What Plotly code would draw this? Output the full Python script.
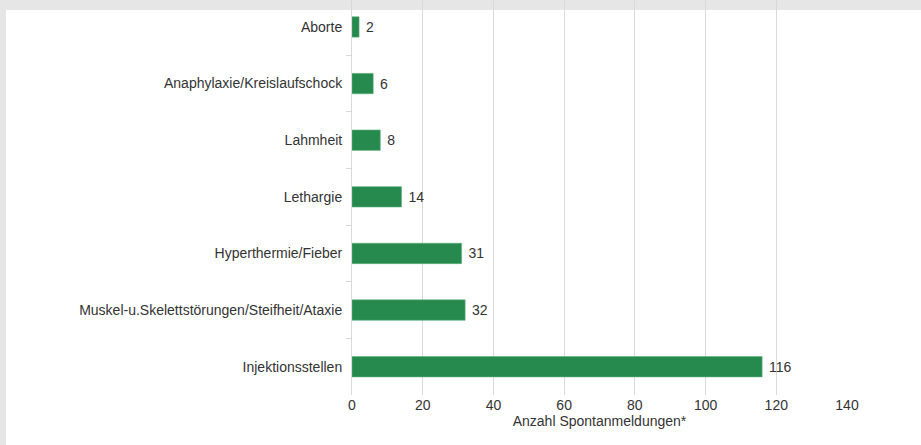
import plotly.graph_objects as go

categories = [
    "Aborte",
    "Anaphylaxie/Kreislaufschock",
    "Lahmheit",
    "Lethargie",
    "Hyperthermie/Fieber",
    "Muskel-u.Skelettstörungen/Steifheit/Ataxie",
    "Injektionsstellen",
]
counts = [2, 6, 8, 14, 31, 32, 116]
x_ticks = [0, 20, 40, 60, 80, 100, 120, 140]

W, H = 921, 445
margin = {"l": 352, "r": 74, "t": 0, "b": 50}
pw = W - margin["l"] - margin["r"]
ph = H - margin["t"] - margin["b"]


def paper_x(px):
    return (px - margin["l"]) / pw


def paper_y(py):
    return 1 - (py - margin["t"]) / ph


fig = go.Figure()
fig.add_bar(
    x=counts,
    y=categories,
    orientation="h",
    marker={"color": "#268a4e", "line": {"color": "#5fb07e", "width": 0.6}},
    text=counts,
    texttemplate=" %{x}",
    textposition="outside",
    cliponaxis=False,
    textfont={"size": 14, "color": "#333333"},
)

# grey shadow along the top and left of the card
fig.add_shape(
    type="rect", xref="paper", yref="paper",
    x0=paper_x(0), x1=paper_x(W), y0=paper_y(H), y1=paper_y(0),
    fillcolor="#e6e6e6", line={"width": 0}, layer="below",
)
fig.add_shape(
    type="rect", xref="paper", yref="paper",
    x0=paper_x(6), x1=paper_x(W + 2), y0=paper_y(H + 2), y1=paper_y(10),
    fillcolor="white", line={"width": 0}, layer="below",
)

fig.update_layout(
    width=W,
    height=H,
    margin=margin,
    paper_bgcolor="white",
    plot_bgcolor="rgba(0,0,0,0)",
    font={"family": "Liberation Sans, Arial, sans-serif", "size": 14, "color": "#333333"},
    bargap=0.64,
    showlegend=False,
)
fig.update_xaxes(
    range=[0, 140],
    tickvals=x_ticks,
    showgrid=True,
    gridcolor="#d9d9d9",
    gridwidth=1,
    zeroline=False,
    showline=False,
    ticks="",
    automargin=False,
    tickfont={"size": 14, "color": "#333333"},
    title={"text": "Anzahl Spontanmeldungen*", "font": {"size": 14}, "standoff": 2},
)
fig.update_yaxes(
    categoryorder="array",
    categoryarray=categories,
    range=[6.5, -0.476],
    automargin=False,
    showline=True,
    linecolor="#d9d9d9",
    linewidth=1,
    ticks="outside",
    tickson="boundaries",
    ticklen=5,
    tickcolor="#d9d9d9",
    showgrid=False,
    ticklabelstandoff=6,
)

fig.write_html(
    "out.html",
    config={"displayModeBar": False},
    post_script="document.body.style.margin = '0'; document.body.style.overflow = 'hidden';",
)
